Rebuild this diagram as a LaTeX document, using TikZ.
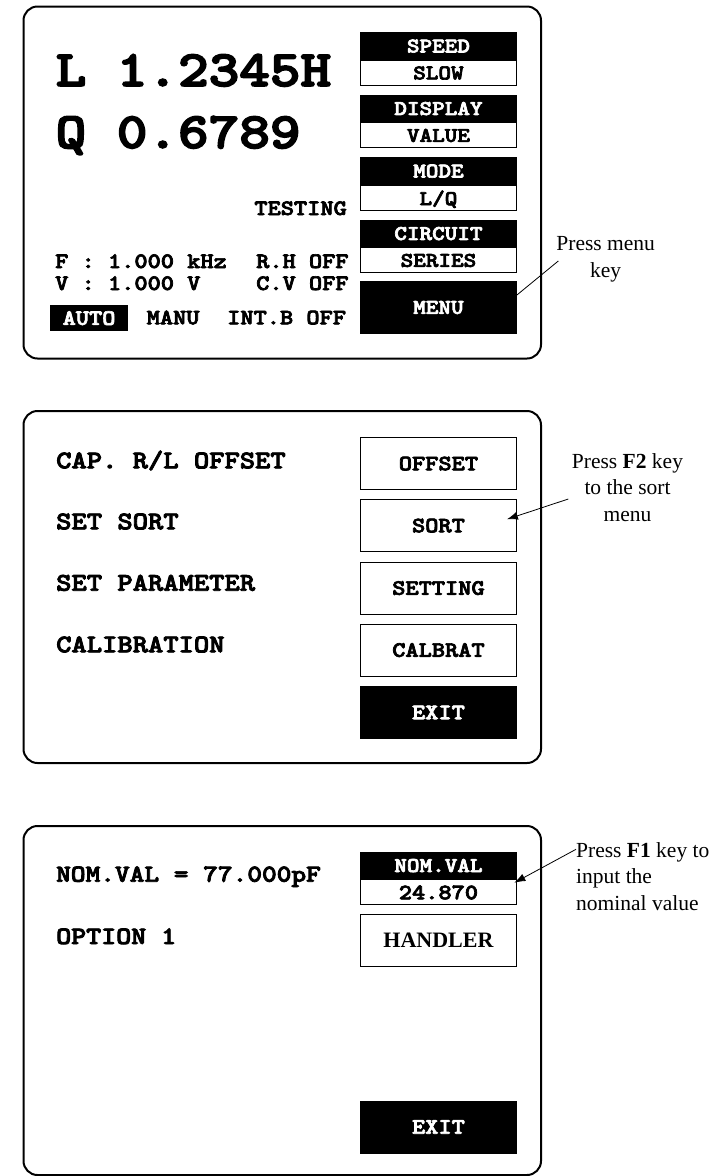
\documentclass[tikz,border=0pt]{standalone}
\usepackage{fontspec}
\setmainfont{Liberation Serif}
\newfontfamily\monof{lmmonolt10-bold.otf}[FakeBold=3]
\usetikzlibrary{arrows.meta,calc}
\newcommand\cw[1]{\scalebox{1.143}[1]{#1}}
\begin{document}
\begin{tikzpicture}[x=1pt,y=-1pt,
  panel/.style={draw=black,line width=2pt,rounded corners=14pt},
  lcdtxt/.style={font=\monof\fontsize{#1}{#1}\selectfont, inner sep=0pt, anchor=base west},
  fkey/.style={draw=black, line width=0.9pt, minimum width=156pt, inner sep=0pt, anchor=north west, text depth=0pt, font=\monof\fontsize{#1}{#1}\selectfont},
  fhdr/.style={fkey=#1, fill=black, text=white, minimum height=27pt},
  fval/.style={fkey=#1, fill=white, minimum height=25pt},
  fbtn/.style={fkey=#1, fill=white, minimum height=52pt},
  fdark/.style={fkey=#1, fill=black, text=white, minimum height=52pt},
  anno/.style={font=\fontsize{21.5}{26.5}\selectfont, inner sep=0pt},
  leader/.style={draw=black, line width=0.8pt},
  tip/.style={-{Latex[length=11pt,width=8pt]}}
]
\useasboundingbox (0,0) rectangle (722,1176);

% ---------- panel 1 ----------
\draw[panel] (23.5,6.5) rectangle (541,358.5);
\node[lcdtxt=51] (lval) at (55.5,86) {\cw{L 1.2345H}};
\node[lcdtxt=51] (qval) at (55.5,148) {\cw{Q 0.6789}};
\node[lcdtxt=22, anchor=base east] (testing) at (347,215) {\cw{TESTING}};
\node[lcdtxt=22] (freq) at (55,268) {\cw{F : 1.000 kHz}};
\node[lcdtxt=22] (rh) at (256,268) {\cw{R.H OFF}};
\node[lcdtxt=22] (volt) at (55,290) {\cw{V : 1.000 V}};
\node[lcdtxt=22] (cv) at (256,290) {\cw{C.V OFF}};
\node[fill=black, text=white, font=\monof\fontsize{22}{22}\selectfont, minimum width=77.7pt, minimum height=25.7pt, text depth=0pt, inner sep=0pt, anchor=north west] (auto) at (50,305) {\cw{AUTO}};
\node[lcdtxt=22] (manu) at (146.5,324.3) {\cw{MANU}};
\node[lcdtxt=22] (intb) at (227,324.3) {\cw{INT.B OFF}};

\node[fhdr=21] (spdH) at (360,32) {\cw{SPEED}};
\node[fval=21] (spdV) at (spdH.south west) {\cw{SLOW}};
\node[fhdr=21] (dspH) at (360,94.5) {\cw{DISPLAY}};
\node[fval=21] (dspV) at (dspH.south west) {\cw{VALUE}};
\node[fhdr=21] (modH) at (360,157) {\cw{MODE}};
\node[fval=21] (modV) at (modH.south west) {\cw{L/Q}};
\node[fhdr=21] (cirH) at (360,219.5) {\cw{CIRCUIT}};
\node[fval=21] (cirV) at (cirH.south west) {\cw{SERIES}};
\node[fdark=21] (menu) at (360,281) {\cw{MENU}};

\node[anno, align=center, anchor=base] (note1) at (605.7,277) {Press menu\\key};
\coordinate (n1s) at (558.3,261);
\draw[leader] (n1s) -- ($(menu.north east)+(0,14)$);

% ---------- panel 2 ----------
\draw[panel] (23.5,411) rectangle (541,763);
\node[lcdtxt=25.5] (capoff) at (56,468.3) {\cw{CAP. R/L OFFSET}};
\node[lcdtxt=25.5] (setsort) at (56,529.3) {\cw{SET SORT}};
\node[lcdtxt=25.5] (setpar) at (56,590.7) {\cw{SET PARAMETER}};
\node[lcdtxt=25.5] (calib) at (56,652.3) {\cw{CALIBRATION}};

\node[fbtn=22] (offset) at (360,437) {\cw{OFFSET}};
\node[fbtn=22] (sort) at (360,499) {\cw{SORT}};
\node[fbtn=22] (setting) at (360,561.5) {\cw{SETTING}};
\node[fbtn=22] (calbrat) at (360,623.5) {\cw{CALBRAT}};
\node[fdark=22] (exit2) at (360,686) {\cw{EXIT}};

\node[anno, align=center, anchor=base] (note2) at (627.5,521) {Press \textbf{F2} key\\to the sort\\menu};
\coordinate (n2s) at (568.3,499);
\draw[leader, tip] (n2s) -- ($(sort.north east)+(-10,20.3)$);

% ---------- panel 3 ----------
\draw[panel] (23.5,826) rectangle (541,1175);
\node[lcdtxt=24.5] (nomval) at (56,881.7) {\cw{NOM.VAL = 77.000pF}};
\node[lcdtxt=25] (option) at (56,944) {\cw{OPTION 1}};

\node[fhdr=21] (nomH) at (360,851.5) {\cw{NOM.VAL}};
\node[fval=22] (nomV) at (nomH.south west) {\cw{24.870}};
\node[fbtn=22, font=\bfseries\fontsize{22}{22}\selectfont] (handler) at (360,914) {HANDLER};
\node[fdark=22] (exit3) at (360,1100.5) {\cw{EXIT}};

\node[anno, align=left, anchor=base west] (note3) at (576,910) {Press \textbf{F1} key to\\input the\\nominal value};
\coordinate (n3s) at (576,849.3);
\draw[leader, tip] (n3s) -- ($(nomV.north east)+(-2.5,3.3)$);
\end{tikzpicture}
\end{document}
